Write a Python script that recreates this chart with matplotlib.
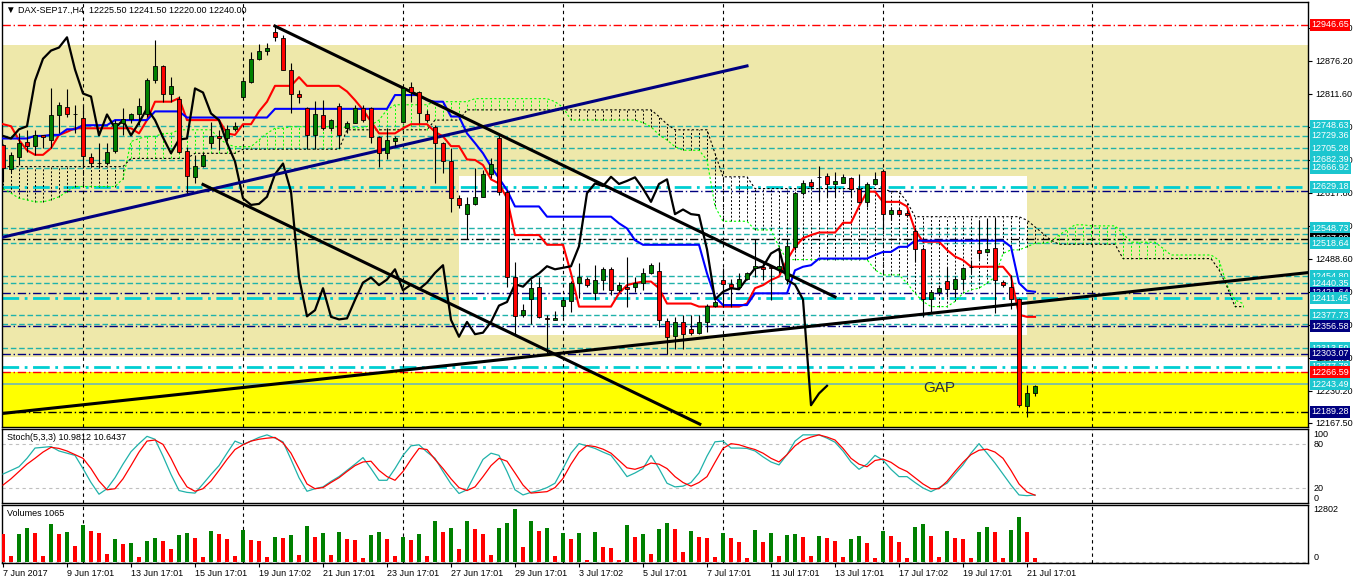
import numpy as np
import matplotlib
matplotlib.use("Agg")
import matplotlib.pyplot as plt
from matplotlib.patches import Rectangle
from matplotlib.transforms import blended_transform_factory

# ---------------- data (DAX-SEP17, H4) ----------------
opens = [12711, 12664, 12688, 12718, 12710, 12730, 12722, 12769, 12786, 12771,
         12765, 12688, 12677, 12677, 12699, 12754, 12763, 12772, 12772, 12838,
         12865, 12812, 12802, 12699, 12649, 12671, 12716, 12728, 12724, 12742,
         12806, 12835, 12879, 12896, 12932, 12920, 12859, 12812, 12783, 12730,
         12770, 12744, 12788, 12745, 12755, 12783, 12783, 12726, 12695, 12720,
         12756, 12824, 12814, 12772, 12746, 12715, 12680, 12607, 12577, 12595,
         12610, 12654, 12724, 12620, 12452, 12378, 12409, 12433, 12373, 12369,
         12397, 12406, 12442, 12450, 12421, 12448, 12468, 12427, 12434, 12434,
         12442, 12461, 12465, 12367, 12337, 12365, 12352, 12344, 12365, 12397,
         12448, 12439, 12434, 12450, 12470, 12473, 12472, 12468, 12450, 12512,
         12617, 12638, 12649, 12651, 12634, 12637, 12646, 12626, 12600, 12635,
         12661, 12576, 12585, 12579, 12543, 12507, 12409, 12424, 12446, 12429,
         12450, 12473, 12506, 12501, 12510, 12444, 12433, 12409, 12200, 12225.5]
highs = [12713, 12698, 12734, 12741, 12741, 12731, 12822, 12796, 12821, 12790,
         12790, 12695, 12716, 12716, 12760, 12783, 12773, 12803, 12842, 12917,
         12868, 12845, 12807, 12708, 12692, 12698, 12757, 12741, 12750, 12757,
         12839, 12894, 12909, 12910, 12946, 12927, 12871, 12818, 12785, 12797,
         12799, 12763, 12793, 12759, 12790, 12790, 12785, 12728, 12744, 12728,
         12825, 12835, 12816, 12780, 12750, 12718, 12705, 12613, 12610, 12666,
         12662, 12685, 12731, 12623, 12483, 12401, 12450, 12453, 12378, 12386,
         12414, 12446, 12480, 12453, 12476, 12473, 12473, 12444, 12493, 12453,
         12470, 12480, 12483, 12372, 12375, 12378, 12378, 12378, 12400, 12408,
         12470, 12450, 12460, 12463, 12528, 12480, 12473, 12512, 12525, 12620,
         12643, 12644, 12670, 12656, 12659, 12654, 12649, 12654, 12639, 12659,
         12664, 12590, 12587, 12584, 12548, 12512, 12427, 12437, 12473, 12453,
         12473, 12486, 12564, 12568, 12569, 12447, 12457, 12411, 12241, 12241.5]
lows = [12639, 12659, 12672, 12698, 12692, 12705, 12705, 12734, 12767, 12734,
        12666, 12669, 12666, 12672, 12696, 12731, 12754, 12750, 12767, 12832,
        12796, 12796, 12695, 12617, 12636, 12669, 12705, 12701, 12720, 12739,
        12806, 12833, 12878, 12887, 12914, 12858, 12774, 12793, 12703, 12703,
        12741, 12739, 12705, 12734, 12754, 12757, 12715, 12669, 12683, 12709,
        12754, 12796, 12754, 12757, 12636, 12656, 12581, 12587, 12528, 12594,
        12609, 12646, 12613, 12434, 12342, 12375, 12361, 12372, 12303, 12369,
        12375, 12385, 12411, 12434, 12408, 12427, 12418, 12424, 12395, 12424,
        12427, 12459, 12356, 12303, 12313, 12313, 12339, 12342, 12346, 12395,
        12395, 12395, 12429, 12447, 12453, 12447, 12408, 12460, 12440, 12506,
        12613, 12626, 12600, 12610, 12610, 12636, 12610, 12597, 12590, 12633,
        12545, 12564, 12574, 12571, 12483, 12375, 12382, 12421, 12414, 12414,
        12427, 12460, 12489, 12499, 12382, 12434, 12391, 12199, 12179, 12220.0]
closes = [12666, 12692, 12716, 12710, 12730, 12726, 12769, 12789, 12771, 12772,
          12690, 12677, 12677, 12697, 12754, 12763, 12771, 12788, 12839, 12866,
          12812, 12827, 12698, 12651, 12670, 12692, 12729, 12724, 12742, 12748,
          12837, 12880, 12896, 12902, 12922, 12859, 12812, 12806, 12730, 12771,
          12744, 12760, 12730, 12755, 12783, 12760, 12726, 12695, 12722, 12724,
          12822, 12814, 12773, 12760, 12715, 12679, 12607, 12594, 12596, 12610,
          12654, 12675, 12620, 12452, 12376, 12388, 12431, 12375, 12370, 12372,
          12408, 12442, 12452, 12437, 12448, 12468, 12427, 12438, 12429, 12442,
          12461, 12476, 12369, 12336, 12365, 12341, 12344, 12365, 12397, 12404,
          12439, 12434, 12450, 12460, 12474, 12468, 12471, 12474, 12513, 12617,
          12636, 12631, 12649, 12635, 12641, 12648, 12626, 12600, 12635, 12644,
          12576, 12585, 12576, 12574, 12507, 12409, 12424, 12431, 12429, 12450,
          12470, 12473, 12499, 12508, 12447, 12438, 12409, 12202, 12225, 12240.0]

tenkan = [12752, 12748, 12721, 12701, 12692, 12692, 12705, 12731, 12737, 12744,
          12744, 12744, 12744, 12744, 12744, 12744, 12744, 12734, 12760, 12796,
          12796, 12796, 12803, 12760, 12760, 12760, 12760, 12760, 12734, 12731,
          12752, 12752, 12777, 12796, 12827, 12827, 12827, 12844, 12827, 12827,
          12827, 12827, 12827, 12816, 12799, 12780, 12757, 12734, 12734, 12734,
          12744, 12752, 12752, 12752, 12737, 12728, 12709, 12709, 12683, 12682,
          12672, 12644, 12636, 12607, 12535, 12535, 12535, 12535, 12516, 12516,
          12516, 12460, 12395, 12395, 12395, 12395, 12395, 12421, 12437, 12441,
          12444, 12444, 12431, 12401, 12401, 12401, 12401, 12395, 12395, 12395,
          12395, 12395, 12395, 12401, 12431, 12437, 12447, 12454, 12486, 12512,
          12529, 12535, 12540, 12540, 12540, 12559, 12559, 12591, 12620, 12620,
          12600, 12600, 12600, 12591, 12545, 12522, 12522, 12522, 12506, 12493,
          12486, 12473, 12473, 12473, 12473, 12473, 12454, 12379, 12375, 12375]
kijun = [12724, 12724, 12724, 12724, 12729, 12729, 12731, 12731, 12742, 12742,
         12750, 12750, 12750, 12750, 12760, 12760, 12760, 12760, 12760, 12777,
         12777, 12777, 12777, 12765, 12765, 12765, 12765, 12765, 12765, 12765,
         12765, 12765, 12765, 12765, 12782, 12782, 12782, 12782, 12782, 12782,
         12782, 12782, 12782, 12782, 12782, 12782, 12782, 12782, 12782, 12809,
         12809, 12809, 12809, 12799, 12796, 12796, 12767, 12767, 12734, 12715,
         12695, 12669, 12646, 12623, 12591, 12591, 12591, 12591, 12571, 12571,
         12571, 12571, 12571, 12571, 12571, 12571, 12571, 12558, 12548, 12525,
         12516, 12516, 12516, 12516, 12516, 12516, 12516, 12516, 12460, 12414,
         12398, 12398, 12398, 12398, 12421, 12421, 12421, 12421, 12421, 12466,
         12473, 12476, 12489, 12489, 12489, 12489, 12489, 12489, 12489, 12496,
         12502, 12502, 12512, 12512, 12524, 12524, 12524, 12524, 12524, 12524,
         12524, 12524, 12524, 12524, 12524, 12524, 12512, 12441, 12426, 12424]
span_a = [12626, 12617, 12607, 12604, 12600, 12600, 12604, 12610, 12620, 12630,
          12630, 12630, 12630, 12630, 12630, 12645, 12718, 12724, 12728, 12728,
          12734, 12734, 12741, 12741, 12741, 12741, 12741, 12724, 12713, 12708,
          12708, 12708, 12721, 12734, 12744, 12744, 12747, 12747, 12747, 12747,
          12747, 12747, 12747, 12745, 12745, 12745, 12750, 12760, 12780, 12790,
          12790, 12790, 12790, 12790, 12796, 12796, 12796, 12796, 12796, 12802,
          12802, 12802, 12802, 12802, 12802, 12802, 12802, 12802, 12802, 12796,
          12785, 12760, 12760, 12760, 12760, 12760, 12760, 12760, 12760, 12760,
          12755, 12747, 12731, 12721, 12708, 12701, 12701, 12701, 12682, 12591,
          12562, 12562, 12562, 12562, 12545, 12545, 12545, 12512, 12487, 12487,
          12487, 12487, 12487, 12487, 12487, 12487, 12487, 12487, 12487, 12467,
          12457, 12457, 12457, 12441, 12421, 12405, 12395, 12395, 12395, 12405,
          12421, 12428, 12431, 12441, 12453, 12499, 12506, 12506, 12512, 12519,
          12519, 12522, 12535, 12545, 12555, 12555, 12553, 12553, 12553, 12553,
          12538, 12521, 12521, 12521, 12521, 12509, 12496, 12496, 12496, 12496,
          12496, 12496, 12486, 12437, 12408, 12401]
span_b = [12669, 12669, 12669, 12669, 12669, 12669, 12669, 12669, 12669, 12669,
          12669, 12669, 12669, 12669, 12669, 12669, 12685, 12685, 12685, 12685,
          12685, 12685, 12685, 12685, 12695, 12695, 12695, 12695, 12695, 12695,
          12703, 12703, 12703, 12703, 12703, 12703, 12703, 12703, 12703, 12703,
          12703, 12703, 12703, 12741, 12741, 12741, 12741, 12741, 12741, 12741,
          12741, 12741, 12741, 12741, 12760, 12760, 12760, 12760, 12780, 12780,
          12780, 12780, 12780, 12780, 12780, 12780, 12780, 12780, 12780, 12780,
          12780, 12780, 12780, 12780, 12780, 12780, 12780, 12780, 12780, 12780,
          12780, 12780, 12767, 12752, 12741, 12741, 12741, 12741, 12741, 12695,
          12649, 12649, 12649, 12649, 12626, 12626, 12626, 12626, 12626, 12626,
          12626, 12626, 12626, 12626, 12626, 12626, 12626, 12626, 12626, 12626,
          12626, 12620, 12620, 12600, 12571, 12571, 12571, 12571, 12571, 12571,
          12571, 12571, 12571, 12571, 12571, 12571, 12571, 12571, 12564, 12551,
          12538, 12525, 12517, 12517, 12517, 12517, 12517, 12517, 12517, 12517,
          12489, 12489, 12489, 12489, 12489, 12489, 12489, 12489, 12489, 12489,
          12489, 12489, 12467, 12434, 12395, 12395]

stoch_k = [39.5, 44.5, 49.5, 61, 75, 76, 77, 71, 68, 65,
           47, 28, 12, 19.5, 34.5, 53, 70, 81, 91, 87,
           64, 39, 17, 14.5, 13.5, 26, 39, 51, 68, 84.5,
           80, 84.5, 89.5, 93, 88.5, 83.5, 59.5, 34.5, 16, 19.5,
           22, 29.5, 36, 44.5, 53, 62, 47, 31, 31, 47,
           65, 78, 79.5, 69.5, 61, 43, 26, 13, 18, 39,
           59.5, 68, 65, 43, 18, 11, 14.5, 17, 21, 27,
           47, 68, 81, 78, 74.5, 69.5, 65, 51, 36, 41,
           47, 65, 47, 27, 22, 23, 28, 41, 64, 83.5,
           84.5, 75, 75, 74.5, 71, 63, 56, 52, 66, 84.5,
           93, 93, 93, 88.5, 83, 71, 56, 46, 53, 65,
           58.5, 46, 36, 36, 28, 20.5, 15.5, 21, 27, 39.5,
           52, 68, 81, 68, 54.5, 39.5, 24.5, 11, 10, 10.9812]
stoch_d = [24.5, 33, 43, 53, 61, 69.5, 76, 74.5, 71, 66,
           61, 47, 30, 18, 19.5, 33, 51, 69.5, 84.5, 86,
           80, 61, 39, 22, 16, 19.5, 30, 44.5, 59.5, 73,
           79.5, 84.5, 87, 88.5, 89.5, 82, 68, 47, 26, 19.5,
           21, 28, 34.5, 43, 51, 56, 57, 44.5, 36, 31,
           43, 59.5, 74.5, 73, 59.5, 47, 33, 21, 17, 22,
           36, 51, 61, 57, 41, 24.5, 13.5, 14.5, 15.5, 21,
           33.5, 53, 69.5, 78.5, 77, 73.5, 68, 58, 48, 46,
           49.5, 54.5, 53, 47, 36, 28, 23, 28, 36, 55.5,
           74.5, 81, 79.5, 76, 73, 68, 61, 56, 66, 78,
           86, 90, 93, 90, 86, 74.5, 61, 53, 49.5, 58,
           60, 55.5, 48, 43, 34.5, 26, 19.5, 19.5, 29.5, 43,
           55.5, 66, 72, 73.5, 69.5, 61, 44.5, 26, 15, 10.6437]

volumes = [6880, 1520, 6800, 8240, 7040, 1520, 9200, 6800, 7280, 3920,
           8960, 7520, 7040, 2000, 5600, 4480, 4640, 1280, 5120, 5840,
           5120, 3200, 6560, 7040, 5840, 1280, 7520, 6800, 5600, 1520,
           7760, 5360, 5120, 1280, 6080, 5840, 6560, 1760, 8720, 6080,
           7040, 1760, 7280, 5600, 5360, 1040, 6560, 7280, 5600, 1520,
           6080, 5360, 6800, 1520, 9920, 7280, 8240, 3200, 9920, 8000,
           6800, 1760, 8240, 9440, 12802, 3680, 9920, 7520, 8240, 1520,
           7040, 5600, 7040, 560, 7280, 3680, 3440, 560, 8960, 6080,
           6800, 2000, 8000, 9440, 8000, 2560, 7520, 6080, 5840, 1280,
           7040, 5840, 4880, 1040, 7760, 4880, 7040, 1520, 6560, 6800,
           6080, 1520, 6320, 5840, 5120, 1280, 5600, 6320, 4640, 1040,
           7520, 6320, 4880, 1040, 8480, 9200, 6320, 1280, 7520, 5840,
           5600, 1040, 7280, 8480, 7280, 1040, 7760, 10880, 7280, 1065]

# horizontal levels drawn on the chart
level_prices = [12946.65, 12748.63, 12729.36, 12705.28, 12682.39, 12666.92, 12629.18,
                12621.00, 12548.73, 12537.00, 12527.99, 12518.64, 12454.80, 12440.35,
                12421.64, 12411.45, 12377.73, 12360.00, 12356.58, 12313.50, 12303.07,
                12277.78, 12266.59, 12243.49, 12189.28]
level_kinds = ['red', 'teal', 'teal', 'teal', 'teal', 'teal', 'teal2',
               'navy', 'teal', 'teal', 'black', 'teal', 'teal', 'teal',
               'navy', 'teal2', 'teal', 'teal', 'navy', 'teal', 'navy',
               'teal2', 'red', 'tealsolid', 'navyblack']
level_labeled = [True, True, True, True, True, True, True,
                 False, True, False, True, True, True, True,
                 True, True, True, False, True, True, True,
                 True, True, True, True]
axis_ticks = [12940.80, 12876.20, 12811.60, 12747.00, 12682.40, 12617.80, 12553.20,
              12488.60, 12424.00, 12359.40, 12294.80, 12230.20, 12167.50]

# trend lines (bar index, price)
trend_navy = ([0, 93], [12531, 12866])
trend_upper = ([34, 104], [12944, 12414])
trend_lower = ([25, 87.1], [12634, 12165])
trend_support = ([0, 163.4], [12186, 12462])

khaki_zone = (12297, 12907)
yellow_zone = (12150, 12266.6)
white_box_bars = (57, 128)
white_box_prices = (12339.4, 12650.6)
gap_pos = (115, 12236)

grid_bars = [10, 30, 50, 70, 90, 110, 136.1]
label_bars = [0, 8, 16, 24, 32, 40, 48, 56, 64, 72, 80, 88, 96, 104, 112, 120, 128]
label_texts = ['7 Jun 2017', '9 Jun 17:01', '13 Jun 17:01', '15 Jun 17:01', '19 Jun 17:02',
               '21 Jun 17:01', '23 Jun 17:01', '27 Jun 17:01', '29 Jun 17:01', '3 Jul 17:02',
               '5 Jul 17:01', '7 Jul 17:01', '11 Jul 17:01', '13 Jul 17:01', '17 Jul 17:02',
               '19 Jul 17:01', '21 Jul 17:01']

# ---------------- drawing ----------------
plt.rcParams['font.family'] = ['Liberation Sans', 'DejaVu Sans']
FS = 6.5
TEAL = '#20B2AA'
CYAN_BOX = '#1CC6CF'
styles = {
    'red': ('#FF0000', (0, (6, 2, 1, 2)), 1.0, '#FF0000'),
    'teal': (TEAL, (0, (4, 2)), 1.0, CYAN_BOX),
    'teal2': ('#00CED1', (0, (6, 2, 1, 2)), 2.0, CYAN_BOX),
    'tealsolid': ('#6FB7B7', '-', 1.2, CYAN_BOX),
    'navy': ('#000080', (0, (6, 2, 1, 2)), 1.0, '#000080'),
    'black': ('black', (0, (6, 2, 1, 2)), 1.0, 'black'),
    'navyblack': ('black', (0, (6, 2, 1, 2)), 1.0, '#000080'),
}

W, H = 1358, 584
fig = plt.figure(figsize=(W / 100, H / 100), dpi=100)


def panel(top, bottom):
    return fig.add_axes([2 / W, 1 - bottom / H, 1306 / W, (bottom - top) / H])


ax = panel(2, 427)
ax_st = panel(429, 503)
ax_v = panel(505, 563)

n = len(closes)
x = np.arange(n)
for a in (ax, ax_st, ax_v):
    a.set_xlim(-0.125, 163.125)
    for s in a.spines.values():
        s.set_linewidth(1.0)
    a.tick_params(axis='x', bottom=False, labelbottom=False)
    for g in grid_bars:
        a.axvline(g, color='black', lw=0.8, ls=(0, (3, 3)), zorder=1.5)

# main panel
ax.set_ylim(12159.4, 12991.1)
ax.axhspan(khaki_zone[0], khaki_zone[1], color='#EEE8AA', lw=0, zorder=0)
ax.axhspan(yellow_zone[0], yellow_zone[1], color='#FFFF00', lw=0, zorder=0)
ax.add_patch(Rectangle((white_box_bars[0], white_box_prices[0]),
                       white_box_bars[1] - white_box_bars[0],
                       white_box_prices[1] - white_box_prices[0],
                       fc='white', ec='none', zorder=0.2))

for p, k in zip(level_prices, level_kinds):
    col, ls, lw, _ = styles[k]
    ax.axhline(p, color=col, ls=ls, lw=lw, zorder=1)

# ichimoku cloud
cx = np.arange(len(span_a))
sa = np.array(span_a, float)
sb = np.array(span_b, float)
hatch_cols = ['#00FF00' if a_ >= b_ else 'black' for a_, b_ in zip(sa, sb)]
ax.vlines(cx, np.minimum(sa, sb), np.maximum(sa, sb), colors=hatch_cols,
          lw=0.7, linestyles=[(0, (2, 2))], zorder=2)
ax.plot(cx, sa, color='#00FF00', lw=0.8, ls=(0, (2, 2)), zorder=2)
ax.plot(cx, sb, color='black', lw=0.8, ls=(0, (2, 2)), zorder=2)

ax.plot(x, tenkan, color='#FF0000', lw=1.5, zorder=3)
ax.plot(x, kijun, color='#0000FF', lw=1.5, zorder=3)
# chikou: close shifted back 26 bars
ax.plot(np.arange(n - 26), closes[26:], color='black', lw=1.6, zorder=3)

ax.plot(*trend_navy, color='#000080', lw=2.2, zorder=3.5)
for t in (trend_upper, trend_lower, trend_support):
    ax.plot(*t, color='black', lw=2.2, zorder=3.5)

o = np.array(opens, float)
h = np.array(highs, float)
l = np.array(lows, float)
c = np.array(closes, float)
up = c >= o
ax.vlines(x, l, h, color='black', lw=0.8, zorder=4)
ax.bar(x, np.abs(c - o), bottom=np.minimum(o, c), width=0.62,
       color=np.where(up, '#008000', '#FF0000'), edgecolor='black', linewidth=0.6, zorder=5)

ax.text(gap_pos[0], gap_pos[1], 'GAP', fontsize=11, color='#303030', va='center', ha='left', zorder=6)

ax.yaxis.tick_right()
ax.set_yticks(axis_ticks)
ax.set_yticklabels([f'{v:.2f}' for v in axis_ticks])
ax.tick_params(axis='y', length=3, width=0.8, pad=2, labelsize=FS)

tr = blended_transform_factory(ax.transAxes, ax.transData)
for p, k, lab in zip(level_prices, level_kinds, level_labeled):
    if lab:
        ax.text(1.0025, p, f'{p:.2f}', transform=tr, fontsize=FS, color='white',
                va='center', ha='left', zorder=10, clip_on=False,
                bbox=dict(boxstyle='square,pad=0.16', fc=styles[k][3], ec='none'))

fig.text(5 / W, 1 - 10 / H, '\u25bc', fontsize=7, va='center', ha='left')
fig.text(18 / W, 1 - 10 / H,
         f'DAX-SEP17.,H4  {opens[-1]:.2f} {highs[-1]:.2f} {lows[-1]:.2f} {closes[-1]:.2f}',
         fontsize=FS, va='center', ha='left')

# stochastic panel
ax_st.set_ylim(0, 101)
ax_st.set_yticks([])
for lv in (80, 20):
    ax_st.axhline(lv, color='#C0C0C0', lw=0.8, ls=(0, (3, 3)), zorder=1)
ax_st.plot(x, stoch_k, color=TEAL, lw=0.9, zorder=3)
ax_st.plot(x, stoch_d, color='#FF0000', lw=0.9, zorder=3)
ax_st.text(0.004, 0.88, f'Stoch(5,3,3) {stoch_k[-1]:.4f} {stoch_d[-1]:.4f}',
           transform=ax_st.transAxes, fontsize=FS, va='center', ha='left')
trs = blended_transform_factory(ax_st.transAxes, ax_st.transData)
for lv, va in ((100, 'top'), (80, 'center'), (20, 'center'), (0, 'bottom')):
    ax_st.text(1.004, lv, str(lv), transform=trs, fontsize=FS, va=va, ha='left', clip_on=False)

# volume panel
ax_v.set_ylim(-120, 13760)
ax_v.set_yticks([])
vcol = ['#FF0000'] + ['#008000' if volumes[i] > volumes[i - 1] else '#FF0000' for i in range(1, n)]
ax_v.bar(x, volumes, width=0.5, color=vcol, zorder=3)
ax_v.axhline(0, color='#C0C0C0', lw=0.8, ls=(0, (3, 3)), zorder=1)
ax_v.text(0.004, 0.85, f'Volumes {volumes[-1]}', transform=ax_v.transAxes,
          fontsize=FS, va='center', ha='left')
trv = blended_transform_factory(ax_v.transAxes, ax_v.transData)
ax_v.text(1.004, max(volumes), str(max(volumes)), transform=trv, fontsize=FS,
          va='center', ha='left', clip_on=False)
ax_v.text(1.004, 0, '0', transform=trv, fontsize=FS, va='bottom', ha='left', clip_on=False)

ax_v.set_xticks(label_bars)
ax_v.set_xticklabels(label_texts)
ax_v.tick_params(axis='x', bottom=True, labelbottom=True, length=3, width=0.8, pad=1.5,
                 labelsize=FS)
for t in ax_v.get_xticklabels():
    t.set_ha('left')

fig.savefig('out.png', dpi=100)
